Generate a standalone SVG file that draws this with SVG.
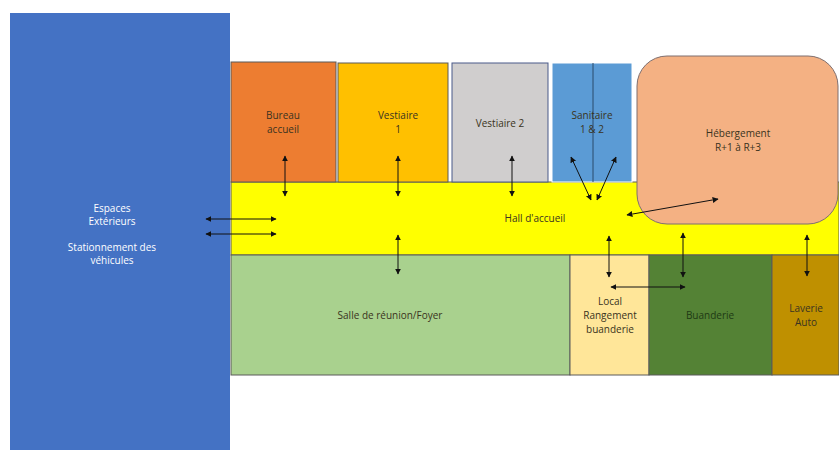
<svg xmlns="http://www.w3.org/2000/svg" width="839" height="450" viewBox="0 0 839 450">
<defs>
<marker id="ah" viewBox="0 0 10 10" refX="9" refY="5" markerWidth="6" markerHeight="6" orient="auto-start-reverse" markerUnits="userSpaceOnUse">
<path d="M0,0 L10,5 L0,10 z" fill="#111"/>
</marker>
<style>
.box{stroke:#5a5a5a;stroke-width:1}
.t{font-family:"Open Sans","Liberation Sans",sans-serif;font-size:10px;text-anchor:middle;fill:#3a3320}
.w{fill:#ffffff}
.c{stroke:#111;stroke-width:1;fill:none;marker-start:url(#ah);marker-end:url(#ah)}
</style>
</defs>
<rect width="839" height="450" fill="#ffffff"/>
<g id="exterieurs">
<rect x="10" y="13" width="220" height="437" fill="#4472C4"/>
<text class="t w" x="112" y="212">Espaces</text>
<text class="t w" x="112" y="225">Extérieurs</text>
<text class="t w" x="112" y="251">Stationnement des</text>
<text class="t w" x="112" y="264">véhicules</text>
</g>
<g id="hall">
<rect class="box" x="231" y="182" width="608" height="73" fill="#FFFF00"/>
<text class="t" x="535" y="222">Hall d'accueil</text>
</g>
<g id="bureau">
<rect class="box" x="231" y="62" width="105" height="120" fill="#ED7D31"/>
<text class="t" x="283" y="119">Bureau</text>
<text class="t" x="283" y="133">accueil</text>
</g>
<g id="vestiaire1">
<rect class="box" x="338" y="63" width="110" height="119" fill="#FFC000"/>
<text class="t" x="398" y="119">Vestiaire</text>
<text class="t" x="398" y="133">1</text>
</g>
<g id="vestiaire2">
<rect x="452" y="63" width="96" height="119" fill="#D0CECE" stroke="#4a5a8a" stroke-width="1"/>
<text class="t" x="500" y="127">Vestiaire 2</text>
</g>
<g id="sanitaire">
<rect x="552" y="63" width="80" height="119" fill="#5B9BD5" stroke="#ffffff" stroke-width="1"/>
<line x1="593" y1="63" x2="593" y2="182" stroke="#2a4a6a" stroke-width="1"/>
<text class="t" x="592" y="119">Sanitaire</text>
<text class="t" x="592" y="133">1 &amp; 2</text>
</g>
<g id="hebergement">
<rect x="637" y="56" width="201" height="168" rx="30" ry="30" fill="#F4B183" stroke="#7f6f6f" stroke-width="1"/>
<text class="t" x="738" y="137">Hébergement</text>
<text class="t" x="738" y="151">R+1 à R+3</text>
</g>
<g id="salle">
<rect class="box" x="231" y="255" width="339" height="120" fill="#A9D18E"/>
<text class="t" x="390" y="319">Salle de réunion/Foyer</text>
</g>
<g id="local">
<rect class="box" x="570" y="255" width="79" height="120" fill="#FFE699"/>
<text class="t" x="610" y="305">Local</text>
<text class="t" x="610" y="319">Rangement</text>
<text class="t" x="610" y="333">buanderie</text>
</g>
<g id="buanderie">
<rect class="box" x="649" y="255" width="123" height="120" fill="#548235"/>
<text class="t" x="710" y="319" fill="#1e3a14" style="fill:#1e3a14">Buanderie</text>
</g>
<g id="laverie">
<rect class="box" x="772" y="255" width="67" height="120" fill="#BF9000"/>
<text class="t" x="806" y="312">Laverie</text>
<text class="t" x="806" y="326">Auto</text>
</g>
<g id="connectors">
<line class="c" x1="285" y1="156" x2="285" y2="196"/>
<line class="c" x1="398" y1="156" x2="398" y2="196"/>
<line class="c" x1="512" y1="156" x2="512" y2="196"/>
<line class="c" x1="571" y1="157" x2="591" y2="200"/>
<line class="c" x1="616" y1="157" x2="597" y2="200"/>
<line class="c" x1="627" y1="215" x2="718" y2="199"/>
<line class="c" x1="206" y1="219" x2="276" y2="219"/>
<line class="c" x1="206" y1="234" x2="276" y2="234"/>
<line class="c" x1="398" y1="235" x2="398" y2="274"/>
<line class="c" x1="609" y1="236" x2="609" y2="277"/>
<line class="c" x1="683" y1="233" x2="683" y2="277"/>
<line class="c" x1="611" y1="287" x2="685" y2="287"/>
<line class="c" x1="807" y1="235" x2="807" y2="276"/>
</g>
</svg>
